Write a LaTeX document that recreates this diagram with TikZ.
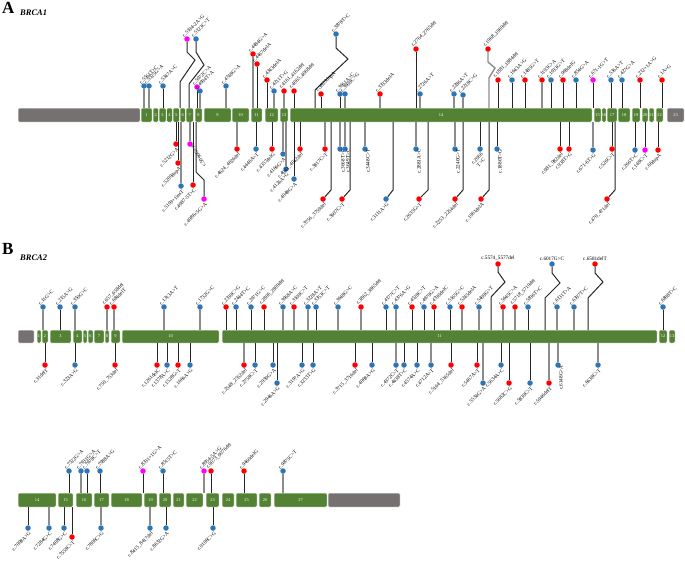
\documentclass[tikz,border=0pt]{standalone}
\usepackage{fontspec}
\setmainfont{Liberation Serif}
\definecolor{exg}{RGB}{84,130,53}
\definecolor{exgr}{RGB}{118,113,113}
\definecolor{hb}{RGB}{46,117,182}
\definecolor{hr}{RGB}{255,0,0}
\definecolor{hm}{RGB}{255,0,255}
\newcommand\lblf{\fontsize{5.2}{5.6}\selectfont}
\newcommand\exf{\fontsize{4.4}{4.6}\selectfont}
\tikzset{
 hd/.style={circle,inner sep=0pt,minimum size=5.5pt},
 dk/.style={line width=1pt,draw=black!85},
 gr/.style={line width=1.4pt,draw=black!45},
 lu/.style={font=\lblf,rotate=45,anchor=south west,inner sep=0.2pt,shift={(-1pt,2.5pt)}},
 ld/.style={font=\lblf,rotate=45,anchor=north east,inner sep=0.2pt,shift={(-1.5pt,-2.5pt)}},
 lv/.style={font=\lblf,rotate=90,anchor=east,inner sep=0.2pt,shift={(0pt,-3pt)}},
 lh/.style={font=\lblf,anchor=south,inner sep=0.2pt,shift={(0pt,3pt)}},
 exon/.style={fill=exg,draw=white,line width=0.5pt,rounded corners=1.2pt,text=white,font=\exf,inner sep=0pt},
 exgrey/.style={exon,fill=exgr},
 ttl/.style={font=\fontsize{17}{17}\selectfont\bfseries,inner sep=0pt,anchor=north west},
 gene/.style={font=\fontsize{8.5}{9}\selectfont\bfseries\itshape,inner sep=0pt,anchor=north west},
}
% up lollipop: x, y, head colour, stem style, label, label style
\newcommand\U[6]{%
 \node[hd,fill=#3] (u#1y#2) at (#1,#2) {};
 \draw[#4] (#1,\bt) -- (u#1y#2);
 \node[#6] at (#1,#2) {#5};}
% down lollipop
\newcommand\D[6]{%
 \node[hd,fill=#3] (d#1y#2) at (#1,#2) {};
 \draw[#4] (#1,\bb) -- (d#1y#2);
 \node[#6] at (#1,#2) {#5};}
% down lollipop with bend: stem x, head x, head y, colour, stem, label
\newcommand\Z[6]{%
 \node[hd,fill=#4] (z#2y#3) at (#2,#3) {};
 \draw[#5] (#1,\bb) -- (#1,#3-9) -- (z#2y#3);
 \node[ld] at (#2,#3) {#6};}
% exon: name, x1, x2, centre y, height, label, style
\newcommand\E[7]{%
 \node[#7,minimum width={(#3-#2)*1pt},minimum height=#5pt] (#1) at ({(#2+#3)/2},#4) {#6};}
\begin{document}
\begin{tikzpicture}[x=1pt,y=-1pt]
\useasboundingbox (0,0) rectangle (685,563);
\fill[white] (0,0) rectangle (685,563);
\node[ttl] (tA) at (2,2) {A};
\node[gene] (gA) at (20,10) {BRCA1};
\node[ttl] (tB) at (2,243) {B};
\node[gene] (gB) at (20,255) {BRCA2};
%%%%%%%%%%%%%%%% BRCA1
\def\bt{108}\def\bb{122}
\E{a0}{18}{140}{115}{14}{}{exgrey}
\E{a1}{141}{152}{115}{14}{1}{exon}
\E{a2}{153}{158.5}{115}{14}{2}{exon}
\E{a3}{159}{166}{115}{14}{3}{exon}
\E{a4}{166.5}{172.5}{115}{14}{4}{exon}
\E{a5}{173}{179.5}{115}{14}{5}{exon}
\E{a6}{180}{185.5}{115}{14}{6}{exon}
\E{a7}{186}{193.5}{115}{14}{7}{exon}
\E{a8}{195}{202}{115}{14}{8}{exon}
\E{a9}{204}{231}{115}{14}{9}{exon}
\E{a10}{232}{249}{115}{14}{10}{exon}
\E{a11}{251}{262}{115}{14}{11}{exon}
\E{a12}{265}{278}{115}{14}{12}{exon}
\E{a13}{280}{288}{115}{14}{13}{exon}
\E{a14}{290}{592}{115}{14}{14}{exon}
\E{a15}{594}{601}{115}{14}{15}{exon}
\E{a16}{602}{606}{115}{14}{16}{exon}
\E{a17}{607}{617}{115}{14}{17}{exon}
\E{a18}{618}{630}{115}{14}{18}{exon}
\E{a19}{632}{640}{115}{14}{19}{exon}
\E{a20}{642}{648}{115}{14}{20}{exon}
\E{a21}{649}{654}{115}{14}{21}{exon}
\E{a22}{656}{663}{115}{14}{22}{exon}
\E{a23}{667}{684}{115}{14}{23}{exgrey}
% top
\U{144}{86}{hb}{gr}{c.5561T>C}{lu}
\U{149}{86}{hb}{gr}{c.5525G>A}{lu}
\U{163}{86}{hb}{dk}{c.5347A>C}{lu}
\node[hd,fill=hm] (za) at (187,39) {};
\draw[dk] (za) -- (187,52) -- (195,60) -- (180,82) -- (180,\bt);
\node[lu] at (187,39) {c.5194-2A>G};
\node[hd,fill=hb] (zb) at (196,39) {};
\draw[dk] (zb) -- (196,52) -- (204,65) -- (189,84) -- (189,\bt);
\node[lu] at (196,39) {c.5123C>T};
\U{197}{87}{hm}{dk}{c.5072C>A}{lu}
\U{200}{91}{hb}{gr}{c.4994T>A}{lu}
\U{226}{86}{hb}{gr}{c.4748G>A}{lu}
\U{253}{54}{hr}{gr}{c.4484G>A}{lu}
\U{257}{64}{hr}{dk}{c.4467delA}{lu}
\U{267}{80}{hr}{dk}{c.4343delA}{lu}
\U{274}{91}{hb}{gr}{c.4211T>G}{lu}
\U{284}{91}{hr}{gr}{c.4161\_4162del}{lu}
\U{294}{91}{hr}{dk}{c.4065\_4068del}{lu}
\node[hd,fill=hb] (zc) at (336,34) {};
\draw[dk] (zc) -- (336,48) -- (348,59) -- (315,90) -- (315,\bt);
\node[lu] at (336,34) {c.3878T>C};
\U{321}{94}{hr}{dk}{c.3823dupA}{lu}
\U{340}{94}{hb}{dk}{c.3661A>C}{lu}
\U{345}{94}{hb}{gr}{c.3608C>G}{lu}
\U{380}{94}{hr}{gr}{c.3333delA}{lu}
\U{416}{49}{hr}{dk}{c.2764\_2765del}{lu}
\U{420}{94}{hb}{gr}{c.2726A>T}{lu}
\U{454}{94}{hb}{gr}{c.2286A>T}{lu}
\U{463}{95}{hb}{gr}{c.2218C>G}{lu}
\node[hd,fill=hr] (zd) at (488,49) {};
\draw[gr] (zd) -- (488,62) -- (495,68) -- (489,78) -- (489,\bt);
\node[lu] at (488,49) {c.1968\_1969del};
\U{498}{80}{hr}{dk}{c.1881\_1884del}{lu}
\U{512}{80}{hb}{dk}{c.1643A>G}{lu}
\U{525}{80}{hr}{dk}{c.1485G>T}{lu}
\U{542}{80}{hr}{gr}{c.1193C>A}{lu}
\U{551}{80}{hb}{dk}{c.1033G>T}{lu}
\U{563}{80}{hr}{dk}{c.968delG}{lu}
\U{576}{80}{hb}{dk}{c.854G>A}{lu}
\U{593}{80}{hm}{dk}{c.671-1G>T}{lu}
\U{611}{80}{hb}{dk}{c.536A>T}{lu}
\U{622}{80}{hb}{dk}{c.427G>A}{lu}
\U{640}{80}{hr}{dk}{c.212+1A>G}{lu}
\U{662}{80}{hr}{dk}{c.1A>G}{lu}
% bottom
\D{176}{144}{hr}{dk}{c.5212G>A}{ld}
\D{178}{163}{hr}{dk}{c.5209dupA}{ld}
\D{181}{186}{hb}{gr}{c.5193+1insT}{ld}
\D{190}{144}{hm}{gr}{c.5096G>A}{ld,rotate=75,shift={(1pt,0pt)}}
\D{193}{185}{hr}{dk}{c.4987-5T>C}{ld}
\node[hd,fill=hm] (ze) at (204,199) {};
\draw[dk] (196,\bb) -- (196,172) -- (204,180) -- (ze);
\node[ld] at (204,199) {c.4986+5G>A};
\D{237}{149}{hr}{gr}{c.4624\_4626del}{ld}
\D{256}{149}{hb}{dk}{c.4446A>T}{ld}
\D{272}{149}{hr}{dk}{c.4357delG}{ld}
\D{283}{154}{hb}{gr}{c.4166G>A}{ld}
\D{286}{169}{hb}{gr}{c.4126A>G}{ld}
\D{294}{179}{hb}{dk}{c.4048G>A}{ld}
\D{300}{149}{hr}{dk}{c.4041\_4042del}{ld}
\D{325}{149}{hr}{gr}{c.3817C>T}{ld}
\Z{331}{323}{199}{hr}{dk}{c.3756\_3759del}
\D{340}{149}{hb}{gr}{c.3668T>C}{lv}
\D{345}{149}{hb}{gr}{c.3649T>C}{lv}
\Z{350}{342}{199}{hr}{dk}{c.3607C>T}
\D{365}{149}{hb}{gr}{c.3448C>T}{lv}
\Z{393}{386}{199}{hb}{dk}{c.3111A>G}
\D{416}{149}{hb}{gr}{c.2881A>C}{lv}
\Z{428}{419}{199}{hr}{dk}{c.2635G>T}
\D{455}{149}{hb}{gr}{c.2240G>T}{lv}
\Z{463}{455}{199}{hr}{dk}{c.2253\_2254del}
\Z{489}{481}{199}{hr}{dk}{c.1961delA}
\D{480}{149}{hb}{dk}{c.2066\\T>C}{ld,align=center}
\D{497}{149}{hb}{dk}{c.1880T>G}{lv}
\D{560}{149}{hr}{dk}{c.981\_982del}{ld}
\D{569}{149}{hr}{dk}{c.938T>G}{ld}
\D{593}{150}{hb}{gr}{c.671-6T>G}{ld}
\D{612}{149}{hr}{dk}{c.526C>T}{ld}
\Z{615}{607}{199}{hr}{dk}{c.470\_471del}
\D{635}{150}{hb}{dk}{c.266T>C}{ld}
\D{645}{150}{hm}{dk}{c.148C>T}{ld}
\D{658}{150}{hr}{dk}{c.66dupA}{ld}
%%%%%%%%%%%%%%%% BRCA2 row 1
\def\bt{330}\def\bb{343}
\E{b0}{18}{34}{336.5}{13}{}{exgrey}
\E{b1}{37}{41}{336.5}{13}{1}{exon}
\E{b2}{42}{48}{336.5}{13}{2}{exon}
\E{b3}{50}{71}{336.5}{13}{3}{exon}
\E{b4}{73}{82}{336.5}{13}{4}{exon}
\E{b5}{83}{87}{336.5}{13}{5}{exon}
\E{b6}{88}{93}{336.5}{13}{6}{exon}
\E{b7}{94}{104}{336.5}{13}{7}{exon}
\E{b8}{105}{109}{336.5}{13}{8}{exon}
\E{b9}{111}{120}{336.5}{13}{9}{exon}
\E{b10}{122}{219}{336.5}{13}{10}{exon}
\E{b11}{222}{657}{336.5}{13}{11}{exon}
\E{b12}{659}{667}{336.5}{13}{12}{exon}
\E{b13}{669}{675}{336.5}{13}{13}{exon}
\U{43}{307}{hb}{gr}{c.11G>C}{lu}
\U{60}{307}{hb}{dk}{c.215A>G}{lu}
\U{75}{307}{hb}{gr}{c.350G>C}{lu}
\U{107}{307}{hr}{gr}{c.657\_658del}{lu}
\U{114}{307}{hr}{gr}{c.684delT}{lu}
\U{164}{307}{hb}{gr}{c.1313A>T}{lu}
\U{200}{307}{hb}{gr}{c.1732G>C}{lu}
\U{226}{307}{hr}{dk}{c.2339C>G}{lu}
\U{236}{307}{hb}{dk}{c.2444T>C}{lu}
\U{251}{307}{hb}{dk}{c.2671G>C}{lu}
\U{264}{307}{hr}{dk}{c.2806\_2809del}{lu}
\U{283}{307}{hb}{gr}{c.3068A>C}{lu}
\U{294}{307}{hr}{gr}{c.3109C>T}{lu}
\U{308}{307}{hb}{gr}{c.3228A>T}{lu}
\U{316}{307}{hb}{dk}{c.3353C>T}{lu}
\U{338}{307}{hb}{gr}{c.3648G>C}{lu}
\U{361}{307}{hr}{gr}{c.3862\_3865del}{lu}
\U{386}{307}{hb}{dk}{c.4177C>T}{lu}
\U{396}{307}{hb}{gr}{c.4376A>G}{lu}
\U{412}{307}{hr}{dk}{c.4528C>T}{lu}
\U{424}{307}{hb}{dk}{c.4679G>A}{lu}
\U{434}{307}{hr}{dk}{c.4790delC}{lu}
\U{450}{307}{hb}{dk}{c.5165G>C}{lu}
\U{462}{307}{hr}{gr}{c.5245delA}{lu}
\U{479}{307}{hb}{gr}{c.5409G>T}{lu}
\node[hd,fill=hr] (zf) at (498,264) {};
\draw[dk] (zf) -- (498,272) -- (505,282) -- (491,297) -- (491,\bt);
\node[lh] at (498,264) {c.5574\_5577del};
\U{503}{307}{hr}{gr}{c.5645C>A}{lu}
\U{515}{307}{hr}{gr}{c.5718\_5719del}{lu}
\U{528}{307}{hb}{dk}{c.5836T>C}{lu}
\node[hd,fill=hb] (zg) at (552,264) {};
\draw[dk] (zg) -- (552,273) -- (560,283) -- (545,298) -- (545,\bt);
\node[lh] at (552,264) {c.6017G>C};
\U{557}{307}{hb}{gr}{c.6131T>A}{lu}
\U{574}{307}{hb}{gr}{c.6397T>C}{lu}
\node[hd,fill=hr] (zh) at (595,264) {};
\draw[dk] (zh) -- (595,273) -- (603,282) -- (588,298) -- (588,\bt);
\node[lh] at (595,264) {c.6581delT};
\U{663}{307}{hb}{dk}{c.6898T>C}{lu}
% bottom
\D{45}{365}{hr}{dk}{c.31delT}{ld}
\D{75}{365}{hb}{dk}{c.323A>G}{ld}
\D{115}{365}{hr}{dk}{c.750\_753del}{ld}
\D{157}{365}{hr}{dk}{c.1261delC}{ld}
\D{167}{365}{hb}{dk}{c.1378A>C}{ld}
\D{178}{365}{hr}{dk}{c.1528G>T}{ld}
\D{190}{365}{hb}{dk}{c.1666A>G}{ld}
\D{244}{365}{hr}{gr}{c.2548\_2552del}{ld}
\D{255}{365}{hb}{dk}{c.2758C>T}{ld}
\D{273}{365}{hb}{dk}{c.2930G>A}{ld}
\D{277}{383}{hb}{dk}{c.2946A>G}{ld}
\D{302}{365}{hb}{dk}{c.3197A>G}{ld}
\D{313}{365}{hb}{dk}{c.3233T>G}{ld}
\D{355}{365}{hr}{dk}{c.3715\_3716del}{ld}
\D{372}{365}{hb}{dk}{c.4068A>G}{ld}
\D{396}{365}{hb}{gr}{c.4372C>T}{ld}
\D{404}{365}{hb}{dk}{c.4438T>C}{ld}
\D{417}{365}{hb}{dk}{c.4574A>C}{ld}
\D{431}{365}{hb}{gr}{c.4712A>T}{ld}
\D{451}{365}{hr}{dk}{c.5164\_5165del}{ld}
\D{477}{365}{hr}{dk}{c.5467A>T}{ld}
\D{483}{383}{hb}{gr}{c.5534G>A}{ld}
\D{501}{365}{hb}{dk}{c.5634A>C}{ld}
\D{509}{383}{hr}{dk}{c.5682C>G}{ld}
\D{530}{383}{hb}{dk}{c.5839C>T}{ld}
\D{549}{383}{hr}{gr}{c.5946delT}{ld}
\D{558}{365}{hb}{gr}{c.6148G>A}{lv}
\D{598}{365}{hb}{gr}{c.6638C>T}{ld}
%%%%%%%%%%%%%%%% BRCA2 row 2
\def\bt{493}\def\bb{507}
\E{c14}{18}{56}{500}{14}{14}{exon}
\E{c15}{58}{73}{500}{14}{15}{exon}
\E{c16}{76}{92}{500}{14}{16}{exon}
\E{c17}{94}{109}{500}{14}{17}{exon}
\E{c18}{111}{142}{500}{14}{18}{exon}
\E{c19}{144}{157}{500}{14}{19}{exon}
\E{c20}{159}{171}{500}{14}{20}{exon}
\E{c21}{173}{184}{500}{14}{21}{exon}
\E{c22}{186}{203}{500}{14}{22}{exon}
\E{c23}{206}{219}{500}{14}{23}{exon}
\E{c24}{222}{234}{500}{14}{24}{exon}
\E{c25}{236}{257}{500}{14}{25}{exon}
\E{c26}{259}{271}{500}{14}{26}{exon}
\E{c27}{274}{327}{500}{14}{27}{exon}
\E{c28}{328}{400}{500}{14}{}{exgrey}
\U{69}{471}{hb}{dk}{c.7522G>A}{lu}
\U{81}{471}{hb}{gr}{c.7631G>A}{lu}
\U{87}{471}{hb}{dk}{c.7678C>T}{lu}
\U{100}{471}{hb}{dk}{c.7988A>G}{lu}
\U{143}{471}{hm}{dk}{c.8331+1G>A}{lu}
\U{163}{471}{hb}{dk}{c.8515T>C}{lu}
\U{204}{471}{hm}{gr}{c.8954-5A>G}{lu}
\U{211}{471}{hr}{dk}{c.9073\_9076del}{lu}
\U{244}{471}{hr}{dk}{c.9460delG}{lu}
\U{283}{471}{hb}{gr}{c.9875C>T}{lu}
\D{28}{528}{hb}{dk}{c.7008A>G}{ld}
\D{49}{528}{hb}{gr}{c.7284G>C}{ld}
\D{64}{528}{hb}{dk}{c.7408G>C}{ld}
\D{72}{537}{hr}{dk}{c.7558C>T}{ld}
\D{101}{528}{hb}{gr}{c.7806C>G}{ld}
\D{150}{528}{hb}{gr}{c.8415\_8417del}{ld}
\D{166}{528}{hb}{dk}{c.8632G>A}{ld}
\D{213}{528}{hb}{dk}{c.9106C>G}{ld}
\end{tikzpicture}
\end{document}
